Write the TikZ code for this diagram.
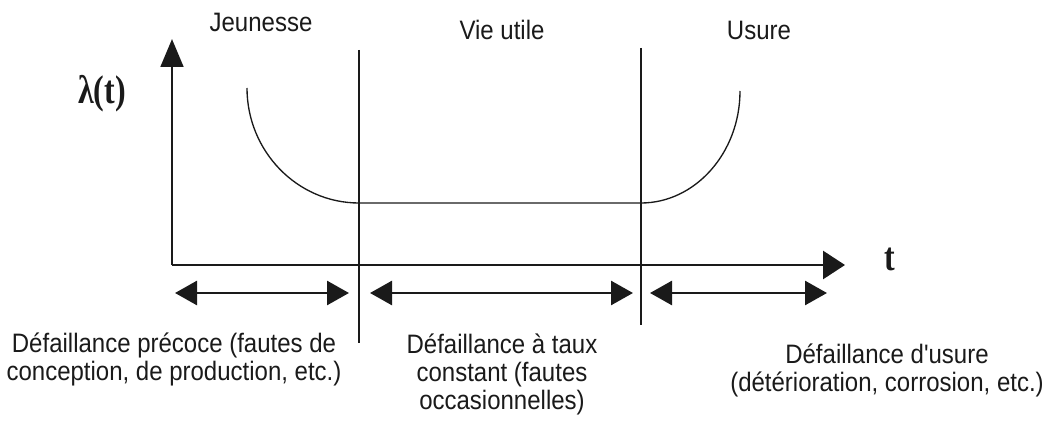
\documentclass[tikz,border=0pt]{standalone}
\usepackage{fontspec}
\setmainfont{Liberation Sans}
\newfontfamily\serifb{Liberation Serif}
\usetikzlibrary{arrows.meta}
\definecolor{ink}{HTML}{1A1A1A}
\newcommand{\symtxt}[1]{{\fontsize{30}{32}\selectfont\serifb\bfseries #1}}
\begin{document}
\begin{tikzpicture}[x=0.75pt,y=-0.75pt,
  lbl/.style={font=\fontsize{20}{21}\selectfont, text=ink, align=center, inner sep=0pt, xscale=0.9},
  sym/.style={text=ink, inner sep=0pt, xscale=0.8},
  axis/.style={line width=2.2pt, draw=ink},
  thin/.style={line width=1pt, draw=ink},
  span/.style={line width=2pt, draw=ink, {Triangle[length=16.5pt,width=18pt]}-{Triangle[length=16.5pt,width=18pt]}}
]
\useasboundingbox (0,0) rectangle (1047,428);
% axes
\coordinate (O) at (172,265);
\coordinate (ytip) at (172,39);
\coordinate (xtip) at (845,265);
\draw[axis, -{Triangle[length=21pt,width=17pt]}] (O) -- (ytip);
\draw[axis, -{Triangle[length=16.5pt,width=21pt]}] (O) -- (xtip);
% phase separators
\coordinate (v1t) at (359,50);
\coordinate (v1b) at (359,343);
\coordinate (v2t) at (641,48);
\coordinate (v2b) at (641,325);
\draw[thin] (v1t) -- (v1b);
\draw[thin] (v2t) -- (v2b);
% bathtub curve
\coordinate (c1s) at (247,88);
\coordinate (c1e) at (359,203);
\coordinate (c2s) at (641,203);
\coordinate (c2e) at (740,91);
\draw[thin] (c1s) .. controls (247,151) and (297,203) .. (c1e) -- (c2s)
  .. controls (695,203) and (740,153) .. (c2e);
% spans
\coordinate (a1l) at (175,293); \coordinate (a1r) at (349,293);
\coordinate (a2l) at (370,293); \coordinate (a2r) at (633,293);
\coordinate (a3l) at (650,293); \coordinate (a3r) at (827,293);
\draw[span] (a1l) -- (a1r);
\draw[span] (a2l) -- (a2r);
\draw[span] (a3l) -- (a3r);
% labels
\node[sym] (lam) at (102,94) {\symtxt{λ(t)}};
\node[sym] (tl) at (890,259) {\symtxt{t}};
\node[lbl] (jeu) at (261,22) {Jeunesse};
\node[lbl] (vie) at (502,30) {Vie utile};
\node[lbl] (usu) at (759,30) {Usure};
\node[lbl] (d1) at (174,359) {Défaillance précoce (fautes de\\conception, de production, etc.)};
\node[lbl] (d2) at (502,374) {Défaillance à taux\\constant (fautes\\occasionnelles)};
\node[lbl] (d3) at (887,370) {Défaillance d\textquotesingle usure\\(détérioration, corrosion, etc.)};
\end{tikzpicture}
\end{document}
